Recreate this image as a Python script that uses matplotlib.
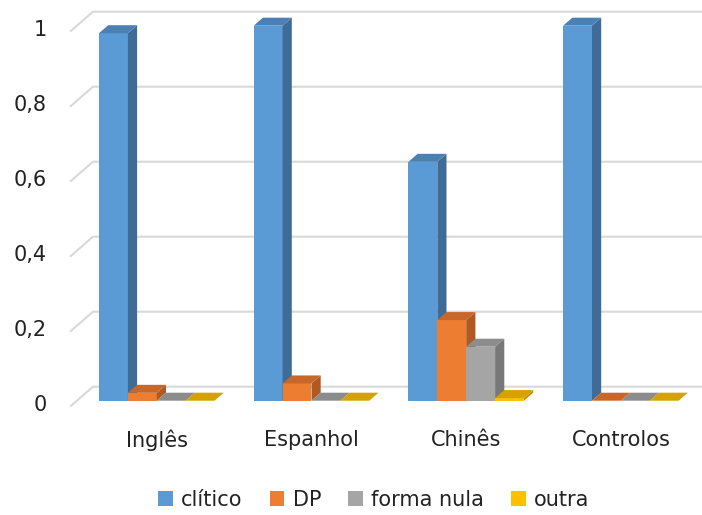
import numpy as np
import matplotlib
matplotlib.use('Agg')
import matplotlib.pyplot as plt
from matplotlib.patches import Polygon, Patch

categories = ['Inglês', 'Espanhol', 'Chinês', 'Controlos']
series_names = ['clítico', 'DP', 'forma nula', 'outra']
clitico = [0.98, 1.0, 0.637, 1.0]
dp = [0.021, 0.046, 0.215, 0.0]
forma_nula = [0.0, 0.0, 0.144, 0.0]
outra = [0.0, 0.0, 0.007, 0.0]
yticks = [0, 0.2, 0.4, 0.6, 0.8, 1]
ytick_labels = ['0', '0,2', '0,4', '0,6', '0,8', '1']

front_cols = ['#5B9BD5', '#ED7D31', '#A5A5A5', '#FFC000']
side_cols = ['#3E6C96', '#AE5A22', '#787878', '#BF9000']
top_cols = ['#4A80B3', '#C7672A', '#8C8C8C', '#D4A300']

W, H = 702, 515
fig = plt.figure(figsize=(W / 100, H / 100), dpi=100)
ax = fig.add_axes([0, 0, 1, 1])
ax.axis('off')

# pixel mapping: x px = 156.8 + 154.7*x ; y px = 400.7 - 375*v
sx, sy = 154.7, 375.0
ax.set_xlim(-156.8 / sx, (W - 156.8) / sx)
ax.set_ylim((400.7 - H) / sy, 400.7 / sy)

# depth vector (front plane -> back wall), bars sit between 0.3 and 0.7
ddx, ddy = 23 / sx, 20 / sy
t_bar0, t_bar1 = 0.3, 0.7

def proj(x, v, t):
    return (x + (t - t_bar0) * ddx, v + (t - t_bar0) * ddy)

x_left = (70 - 156.8) / sx + t_bar0 * ddx  # front-plane left edge at bar depth
x_right = 10.0
grid_c = '#D9D9D9'
for v in yticks:
    p0 = proj(x_left, v, 0)
    p1 = proj(x_left, v, 1)
    p2 = proj(x_right, v, 1)
    ax.plot([p0[0], p1[0], p2[0]], [p0[1], p1[1], p2[1]], color=grid_c, lw=1.5,
            zorder=1, solid_capstyle='butt')

bw = 28.9 / sx
xs = np.arange(len(categories))
data = [clitico, dp, forma_nula, outra]
z = 2
for i in range(len(categories)):
    for k, vals in enumerate(data):
        h = vals[i]
        x0 = xs[i] - 2 * bw + k * bw
        x1 = x0 + bw
        ax.bar(x0, h, bw, align='edge', color=front_cols[k], zorder=z, lw=0)
        # side face
        side = [proj(x1, 0, t_bar0), proj(x1, 0, t_bar1), proj(x1, h, t_bar1), proj(x1, h, t_bar0)]
        ax.add_patch(Polygon(side, closed=True, fc=side_cols[k], ec='none', zorder=z))
        # top face
        top = [proj(x0, h, t_bar0), proj(x1, h, t_bar0), proj(x1, h, t_bar1), proj(x0, h, t_bar1)]
        ax.add_patch(Polygon(top, closed=True, fc=top_cols[k], ec='none', zorder=z))
        z += 1

fs = 15
txt_c = '#222222'
for v, lab in zip(yticks, ytick_labels):
    ax.text((47 - 156.8) / sx, proj(0, v, 0)[1] + 0.004, lab, ha='right', va='center',
            fontsize=fs, color=txt_c)
for i, c in enumerate(categories):
    ax.text(xs[i], (400.7 - 440) / sy, c, ha='center', va='center', fontsize=fs, color=txt_c)

handles = [Patch(facecolor=c, edgecolor='none') for c in front_cols]
leg = fig.legend(handles, series_names, loc='center', ncol=4, frameon=False,
                 bbox_to_anchor=(374 / W, 1 - 500 / H), fontsize=fs,
                 handlelength=0.7, handleheight=0.7, handletextpad=0.4,
                 columnspacing=1.3, labelcolor=txt_c)

fig.savefig('out.png', dpi=100)
